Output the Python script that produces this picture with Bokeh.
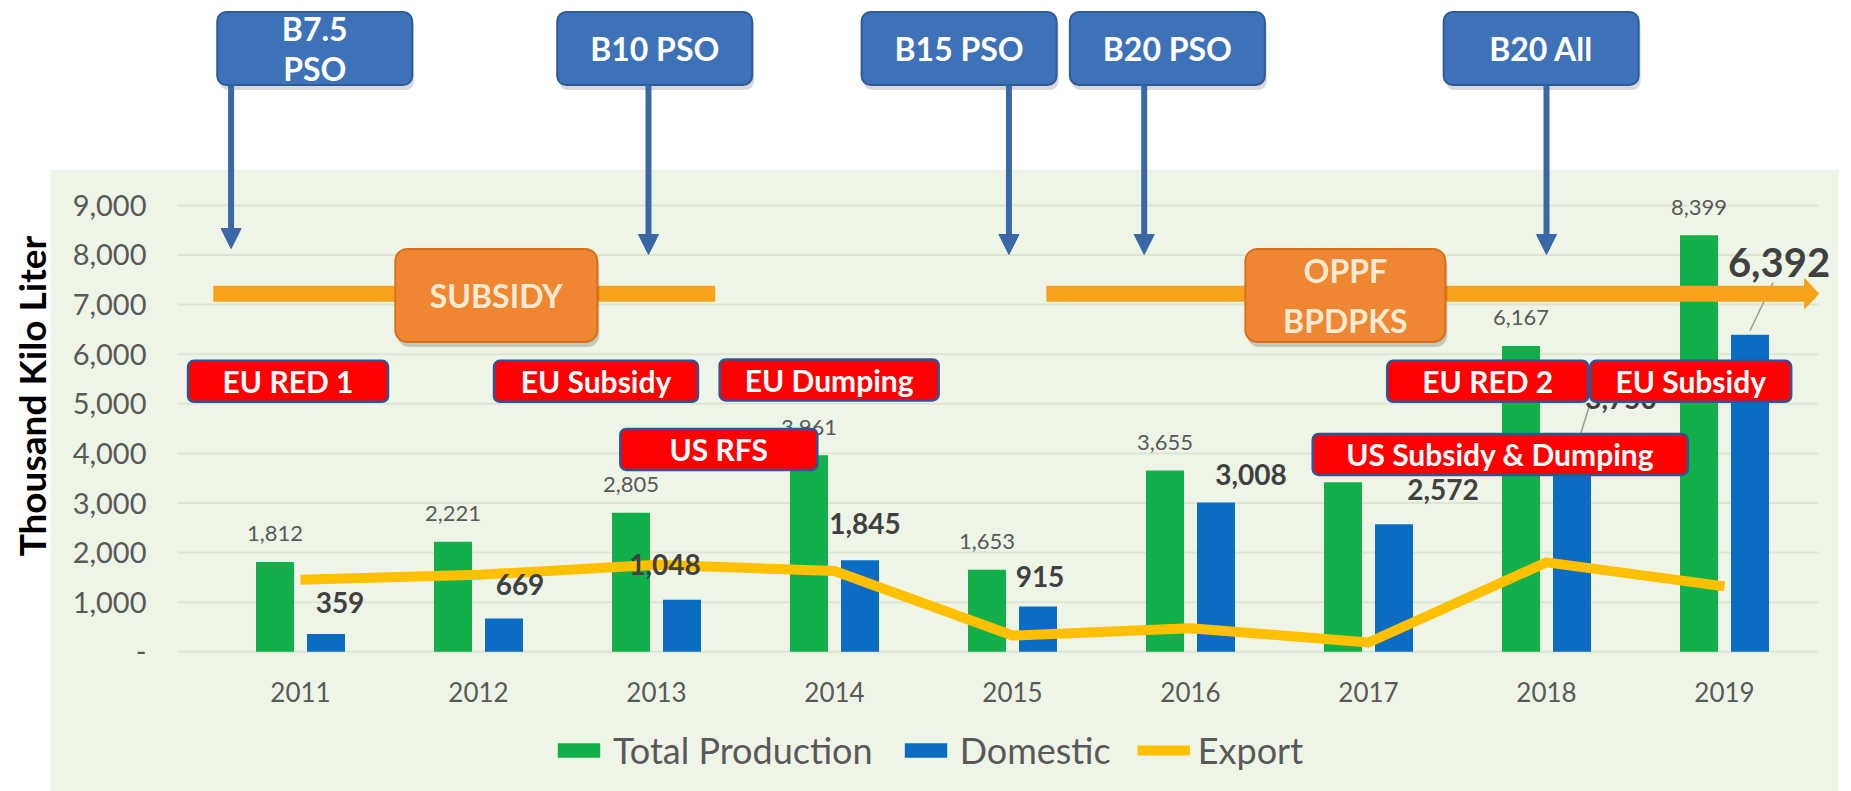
from bokeh.plotting import figure
from bokeh.models import (Range1d, FixedTicker, NumeralTickFormatter, Legend, LegendItem,
                          Arrow, NormalHead, ColumnDataSource)
from bokeh.transform import dodge
from bokeh.core.properties import value
from bokeh.embed import file_html
from bokeh.resources import INLINE

# ---------------- data ----------------
years = [2011, 2012, 2013, 2014, 2015, 2016, 2017, 2018, 2019]
total_production = [1812, 2221, 2805, 3961, 1653, 3655, 3416, 6167, 8399]
domestic = [359, 669, 1048, 1845, 915, 3008, 2572, 3750, 6392]
export = [1453, 1552, 1757, 1629, 328, 477, 187, 1803, 1319]
y_ticks = [0, 1000, 2000, 3000, 4000, 5000, 6000, 7000, 8000, 9000]

# policy annotations (year position, value position)
mandates = ["B7.5\nPSO", "B10 PSO", "B15 PSO", "B20 PSO", "B20 All"]
mandate_box_x = [2011.08, 2012.99, 2014.70, 2015.87, 2017.97]
mandate_arrow_x = [2010.61, 2012.955, 2014.98, 2015.74, 2018.0]
mandate_arrow_tip = [8130, 8010, 8010, 8010, 8010]

events = ["EU RED 1", "EU Subsidy", "EU Dumping", "US RFS", "EU RED 2", "EU Subsidy", "US Subsidy & Dumping"]
event_x = [2010.93, 2012.66, 2013.97, 2013.35, 2017.67, 2018.81, 2017.74]
event_y = [5454, 5454, 5480, 4079, 5454, 5454, 3978]
event_w = [200, 204, 219, 197, 201, 201, 375]

subsidy_labels = ["SUBSIDY", "OPPF\nBPDPKS"]
subsidy_box_x = [2012.10, 2016.87]

# ---------------- style / layout ----------------
FONT = "Lato"
GREEN = "#12B04B"
BLUE = "#0A6CC2"
YELLOW = "#FFC000"
ORANGE_BAND = "#F8A21C"
GRAY = "#595959"
BG = "#EEF5E7"
GRID = "#DCE5D3"
PX_X = 178.0      # px per year
PX_Y = 0.0496     # px per unit
W, H = 1851, 791
SHX = 2 / PX_X    # shadow offsets
SHY = -5 / PX_Y

p = figure(width=W, height=H, output_backend="svg", toolbar_location=None,
           x_range=Range1d(2009.3146, 2019.7135), y_range=Range1d(-2816.5, 13131),
           min_border=0, min_border_left=0, min_border_right=0, min_border_top=0, min_border_bottom=0,
           background_fill_color="white", border_fill_color="white", outline_line_color=None)
p.xgrid.visible = False
p.ygrid.visible = False

# green panel background
p.quad(left=[2009.5955], right=[2019.64], bottom=[-2816.5], top=[9724], fill_color=BG, line_color=None)
# horizontal grid lines
p.segment(x0=[2010.309] * len(y_ticks), x1=[2019.528] * len(y_ticks), y0=y_ticks, y1=y_ticks,
          line_color=GRID, line_width=2)

src = ColumnDataSource(dict(
    year=years, total=total_production, dom=domestic, exp=export,
    total_lbl=[f"{v:,}" for v in total_production],
))

bw = 38 / PX_X
off = 25.5 / PX_X
r_total = p.vbar(x=dodge("year", -off, range=p.x_range), top="total", width=bw, source=src,
                 fill_color=GREEN, line_color=None)
r_dom = p.vbar(x=dodge("year", off, range=p.x_range), top="dom", width=bw, source=src,
               fill_color=BLUE, line_color=None)
r_exp = p.line(x="year", y="exp", source=src, line_color=YELLOW, line_width=10, line_join="round")

# value labels
p.text(x=dodge("year", -off, range=p.x_range), y="total", text="total_lbl", source=src,
       text_align="center", text_baseline="middle", y_offset=-28,
       text_font=value(FONT), text_font_size="22px", text_color=GRAY)

dom_dx = [14, 16, -17, 5, 2, 35, 49, 49, 29]
dom_dy = [-31, -34, -35, -37, -30, -28, -35, -67, -72]
dom_size = ["28px"] * 8 + ["40px"]
src_d = ColumnDataSource(dict(year=years, dom=domestic, lbl=[f"{v:,}" for v in domestic],
                              dx=dom_dx, dy=dom_dy, fs=dom_size))
# leader lines (2018, 2019)
p.segment(x0=[2018 + off, 2019 + off], y0=[domestic[7] + 80, domestic[8] + 80],
          x1=[2018 + off + 18 / PX_X, 2019 + off + 23 / PX_X], y1=[domestic[7] + 1250, domestic[8] + 1050],
          line_color="#9A9A9A", line_width=1.5)
p.text(x=dodge("year", off, range=p.x_range), y="dom", text="lbl", source=src_d,
       x_offset="dx", y_offset="dy", text_align="center", text_baseline="middle",
       text_font=value(FONT), text_font_size="fs", text_font_style="bold", text_color="#404040")

# orange subsidy bands
p.segment(x0=[2010.51, 2015.19], x1=[2013.33, 2019.45], y0=[7220, 7220], y1=[7220, 7220],
          line_color=ORANGE_BAND, line_width=16)
p.patch(x=[2019.45, 2019.45, 2019.53], y=[7220 + 15 / PX_Y, 7220 - 15 / PX_Y, 7220],
        fill_color=ORANGE_BAND, line_color=ORANGE_BAND)
p.rect(x=[v + SHX for v in subsidy_box_x], y=[7184 + SHY] * 2, width=[202, 200], height=[93, 93],
       width_units="screen", height_units="screen", fill_color="black", fill_alpha=0.18,
       line_color=None, border_radius=12)
p.rect(x=subsidy_box_x, y=[7184, 7184], width=[202, 200], height=[93, 93],
       width_units="screen", height_units="screen", fill_color="#EE8632", line_color="#D9701F",
       line_width=2, border_radius=12)
p.text(x=subsidy_box_x, y=[7184, 7184], text=subsidy_labels,
       text_align="center", text_baseline="middle", text_font=value(FONT), text_font_size="32px",
       text_font_style="bold", text_color="#FDEAD3", text_line_height=1.3)

# red event boxes
p.rect(x=event_x, y=event_y, width=event_w, height=[41] * len(events),
       width_units="screen", height_units="screen", fill_color="#FF0000", line_color="#2F5597",
       line_width=2.5, border_radius=6)
p.text(x=event_x, y=event_y, text=events, text_align="center", text_baseline="middle",
       text_font=value(FONT), text_font_size="30px", text_font_style="bold", text_color="white")

# blue mandate boxes and arrows
p.rect(x=[v + SHX for v in mandate_box_x], y=[12163 + SHY] * len(mandates),
       width=[195] * len(mandates), height=[73] * len(mandates),
       width_units="screen", height_units="screen", fill_color="black", fill_alpha=0.15,
       line_color=None, border_radius=9)
p.rect(x=mandate_box_x, y=[12163] * len(mandates), width=[195] * len(mandates), height=[73] * len(mandates),
       width_units="screen", height_units="screen", fill_color="#3D72B8", line_color="#2D5B98",
       line_width=2, border_radius=9)
p.text(x=mandate_box_x, y=[12163] * len(mandates), text=mandates, text_align="center",
       text_baseline="middle", text_font=value(FONT), text_font_size="32px", text_font_style="bold",
       text_color="white", text_line_height=1.05)
for xa, tip in zip(mandate_arrow_x, mandate_arrow_tip):
    p.add_layout(Arrow(end=NormalHead(size=20, fill_color="#3A67A8", line_color="#3A67A8"),
                       x_start=xa, y_start=11417, x_end=xa, y_end=tip,
                       line_color="#3A67A8", line_width=6))

# axes
yax = p.yaxis[0]
yax.fixed_location = 2010.309
yax.ticker = FixedTicker(ticks=y_ticks)
yax.formatter = NumeralTickFormatter(format="0,0")
yax.major_label_overrides = {0: "-"}
yax.axis_line_color = None
yax.major_tick_line_color = None
yax.minor_tick_line_color = None
yax.major_label_standoff = 25
yax.major_label_text_font = FONT
yax.major_label_text_font_size = "29px"
yax.major_label_text_color = GRAY
yax.axis_label = "Thousand Kilo Liter"
yax.axis_label_text_font = FONT
yax.axis_label_text_font_size = "37px"
yax.axis_label_text_font_style = "bold"
yax.axis_label_text_color = "black"
yax.axis_label_standoff = 16

xax = p.xaxis[0]
xax.fixed_location = 0
xax.ticker = FixedTicker(ticks=years)
xax.major_label_overrides = {y: str(y) for y in years}
xax.axis_line_color = None
xax.major_tick_line_color = None
xax.minor_tick_line_color = None
xax.major_label_standoff = 24
xax.major_label_text_font = FONT
xax.major_label_text_font_size = "26px"
xax.major_label_text_color = GRAY

legend = Legend(items=[LegendItem(label="Total Production", renderers=[r_total]),
                       LegendItem(label="Domestic", renderers=[r_dom]),
                       LegendItem(label="Export", renderers=[r_exp])],
                orientation="horizontal", location=(552, 19),
                background_fill_alpha=0, border_line_alpha=0, padding=0, margin=0,
                glyph_width=53, glyph_height=18, spacing=26, label_standoff=8,
                label_text_font=FONT, label_text_font_size="36px", label_text_color=GRAY)
p.add_layout(legend)

open("out.html", "w").write(file_html(p, INLINE))
